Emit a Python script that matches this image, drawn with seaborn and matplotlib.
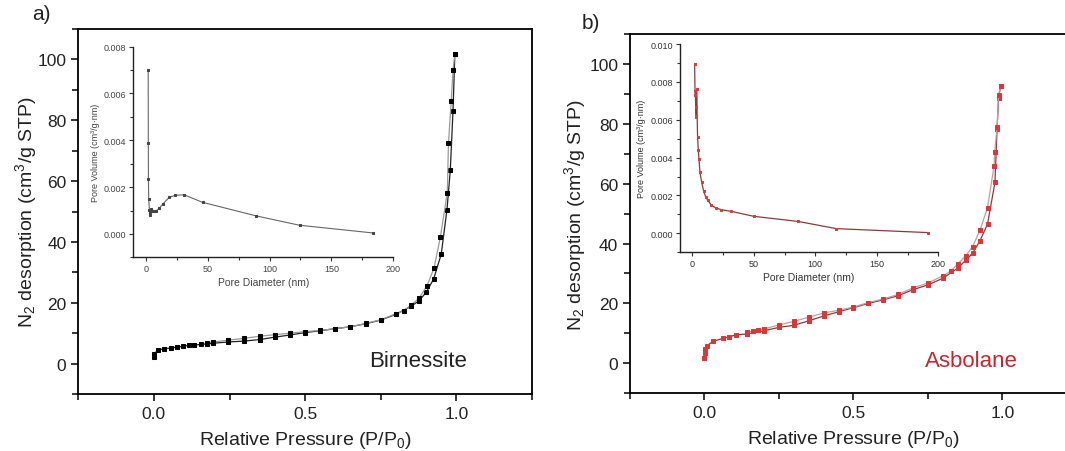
import pandas as pd
import matplotlib.pyplot as plt
from matplotlib.ticker import MultipleLocator, FormatStrFormatter
import seaborn as sns

# style
sns.set_theme(style="ticks")
plt.rcParams['font.family'] = ['Liberation Sans', 'DejaVu Sans']
plt.rcParams['mathtext.default'] = 'regular'

# Birnessite isotherm (P/P0, cm3/g STP)
bir_ads_p = [0.001, 0.002, 0.013, 0.035, 0.057, 0.076, 0.095, 0.117, 0.133, 0.155, 0.177, 0.196,
             0.246, 0.298, 0.35, 0.4, 0.45, 0.5, 0.55, 0.6, 0.65, 0.7, 0.75, 0.8, 0.85, 0.877,
             0.9, 0.925, 0.95, 0.969, 0.98, 0.989, 0.995]
bir_ads_v = [2.2, 3.3, 4.4, 4.9, 5.1, 5.4, 5.7, 6.0, 6.1, 6.3, 6.5, 6.7,
             7.1, 7.4, 7.9, 8.7, 9.4, 10.2, 10.8, 11.5, 12.1, 13.1, 14.3, 16.2, 18.8, 20.7,
             23.4, 27.8, 36.0, 50.6, 63.6, 83.2, 101.7]
bir_des_p = [0.995, 0.989, 0.983, 0.974, 0.97, 0.947, 0.926, 0.903, 0.877, 0.851, 0.827, 0.8,
             0.75, 0.7, 0.65, 0.6, 0.55, 0.5, 0.45, 0.4, 0.35, 0.298, 0.246, 0.196, 0.177]
bir_des_v = [101.7, 96.5, 86.2, 72.5, 56.2, 41.5, 31.3, 25.6, 21.5, 19.3, 17.4, 16.4,
             14.4, 13.2, 12.1, 11.5, 10.9, 10.5, 10.0, 9.5, 9.0, 8.3, 7.7, 7.1, 6.9]

# Asbolane isotherm
asb_ads_p = [0.0, 0.001, 0.003, 0.007, 0.03, 0.062, 0.084, 0.106, 0.142, 0.2, 0.25, 0.3, 0.35,
             0.4, 0.45, 0.5, 0.55, 0.6, 0.65, 0.7, 0.75, 0.8, 0.85, 0.877, 0.9, 0.925, 0.95,
             0.975, 0.982, 0.987, 0.994]
asb_ads_v = [1.9, 3.6, 4.8, 5.8, 7.4, 8.3, 8.9, 9.5, 9.8, 10.9, 12.0, 12.7, 14.2,
             15.8, 17.2, 18.6, 20.0, 21.2, 22.6, 24.6, 26.2, 28.4, 31.8, 34.4, 36.8, 41.0, 46.5,
             60.5, 78.2, 88.6, 92.7]
asb_des_p = [0.994, 0.987, 0.982, 0.974, 0.972, 0.95, 0.925, 0.9, 0.877, 0.85, 0.827, 0.8,
             0.75, 0.7, 0.65, 0.6, 0.55, 0.5, 0.45, 0.4, 0.35, 0.3, 0.25, 0.2, 0.18, 0.163, 0.142]
asb_des_v = [92.7, 89.5, 78.8, 70.5, 66.0, 52.0, 44.5, 39.0, 35.9, 33.2, 30.8, 29.2,
             26.8, 25.2, 23.0, 21.5, 20.3, 18.8, 17.7, 16.8, 15.4, 14.0, 12.8, 11.5, 11.1, 10.8, 10.5]

# pore size distributions (nm, cm3/g.nm)
bir_psd_d = [2.0, 2.1, 2.2, 2.4, 3.0, 3.3, 3.6, 4.2, 5.4, 6.5, 8.1, 10.8, 14.0, 18.9, 23.8,
             31.1, 45.9, 89.2, 124.3, 183.8]
bir_psd_v = [0.0070, 0.0039, 0.00235, 0.0015, 0.00103, 0.00082, 0.00092, 0.00105, 0.00099,
             0.00096, 0.00096, 0.00109, 0.00129, 0.00156, 0.00165, 0.00167, 0.00135, 0.00077,
             0.00037, 0.00004]
asb_psd_d = [1.9, 2.2, 2.5, 2.8, 3.0, 3.3, 3.5, 4.3, 4.9, 5.4, 6.2, 7.6, 9.2, 10.9, 12.8,
             15.5, 19.0, 23.6, 31.8, 50.0, 86.0, 117.2, 191.9]
asb_psd_v = [0.00895, 0.0075, 0.0073, 0.00665, 0.0062, 0.00613, 0.00763, 0.00508, 0.00438,
             0.00394, 0.00323, 0.00271, 0.00223, 0.00192, 0.00174, 0.00148, 0.00135, 0.00125,
             0.00116, 0.0009, 0.00063, 0.00025, 0.00004]


def style_main(ax, ypad):
    ax.set_xlim(-0.25, 1.25)
    ax.set_ylim(-10, 110)
    ax.xaxis.set_major_locator(MultipleLocator(0.5))
    ax.xaxis.set_minor_locator(MultipleLocator(0.25))
    ax.yaxis.set_major_locator(MultipleLocator(20))
    ax.yaxis.set_minor_locator(MultipleLocator(10))
    ax.xaxis.set_major_formatter(FormatStrFormatter('%.1f'))
    ax.tick_params(which='both', direction='out', width=1.1, color='black',
                   labelsize=12.5, labelcolor='#222222')
    ax.tick_params(which='major', length=5)
    ax.tick_params(which='minor', length=4)
    for s in ax.spines.values():
        s.set_linewidth(1.3)
        s.set_color('black')
    ax.set_xlabel('Relative Pressure (P/P$_0$)', fontsize=14, color='#222222', labelpad=6)
    ax.set_ylabel('N$_2$ desorption (cm$^3$/g STP)', fontsize=14, color='#222222', labelpad=ypad)


def style_inset(ax, ymax, tcol):
    ax.set_facecolor('none')
    ax.set_xlim(-10, 200)
    ax.set_ylim(-0.001, ymax)
    ax.xaxis.set_major_locator(MultipleLocator(50))
    ax.xaxis.set_minor_locator(MultipleLocator(25))
    ax.yaxis.set_major_locator(MultipleLocator(0.002))
    ax.yaxis.set_minor_locator(MultipleLocator(0.001))
    ax.yaxis.set_major_formatter(FormatStrFormatter('%.3f'))
    ax.tick_params(which='both', direction='out', width=0.8, color='#333333',
                   labelsize=6.5, labelcolor=tcol, pad=2)
    ax.tick_params(which='major', length=3)
    ax.tick_params(which='minor', length=2)
    for side in ['top', 'right']:
        ax.spines[side].set_visible(False)
    for side in ['left', 'bottom']:
        ax.spines[side].set_linewidth(1.0)
        ax.spines[side].set_color('#222222')
    ax.set_xlabel('Pore Diameter (nm)', fontsize=7.5, color=tcol, labelpad=3)
    ax.set_ylabel('Pore Volume (cm³/g·nm)', fontsize=6.5, color=tcol, labelpad=3)


fig = plt.figure(figsize=(10.65, 4.52), dpi=100)

# a) Birnessite
ax1 = fig.add_axes([0.0735, 0.1261, 0.4260, 0.8075])
sns.lineplot(x=bir_ads_p, y=bir_ads_v, sort=False, estimator=None, ax=ax1, color='#222222',
             lw=0.9, marker='s', markersize=2.6, markerfacecolor='black', markeredgecolor='black')
sns.lineplot(x=bir_des_p, y=bir_des_v, sort=False, estimator=None, ax=ax1, color='#9a9a9a',
             lw=0.9, marker='s', markersize=2.6, markerfacecolor='black', markeredgecolor='black')
style_main(ax1, -1)
ax1.text(0.875, 1.0, 'Birnessite', ha='center', va='center', fontsize=16, color='#222222')

ins1 = fig.add_axes([0.1252, 0.4285, 0.2441, 0.466])
sns.lineplot(x=bir_psd_d, y=bir_psd_v, sort=False, estimator=None, ax=ins1, color='#666666',
             lw=0.8, marker='s', markersize=1.6, markerfacecolor='#444444', markeredgecolor='#444444')
style_inset(ins1, 0.008, '#444444')

# b) Asbolane
ax2 = fig.add_axes([0.5915, 0.1277, 0.4197, 0.795])
sns.lineplot(x=asb_ads_p, y=asb_ads_v, sort=False, estimator=None, ax=ax2, color='#8b3a3a',
             lw=0.9, marker='s', markersize=2.6, markerfacecolor='#d9383a', markeredgecolor='#d9383a')
sns.lineplot(x=asb_des_p, y=asb_des_v, sort=False, estimator=None, ax=ax2, color='#c99a9a',
             lw=0.9, marker='s', markersize=2.6, markerfacecolor='#d9383a', markeredgecolor='#d9383a')
style_main(ax2, 1)
ax2.text(0.895, 0.8, 'Asbolane', ha='center', va='center', fontsize=16, color='#c0282d')

ins2 = fig.add_axes([0.6385, 0.4396, 0.2425, 0.4608])
sns.lineplot(x=asb_psd_d, y=asb_psd_v, sort=False, estimator=None, ax=ins2, color='#8b3a3a',
             lw=0.9, marker='s', markersize=1.9, markerfacecolor='#d04040', markeredgecolor='#d04040')
style_inset(ins2, 0.010, '#333333')

fig.text(0.039, 0.967, 'a)', fontsize=15, ha='center', va='center', color='#222222')
fig.text(0.555, 0.949, 'b)', fontsize=15, ha='center', va='center', color='#222222')

plt.savefig('out.png', dpi=100)
